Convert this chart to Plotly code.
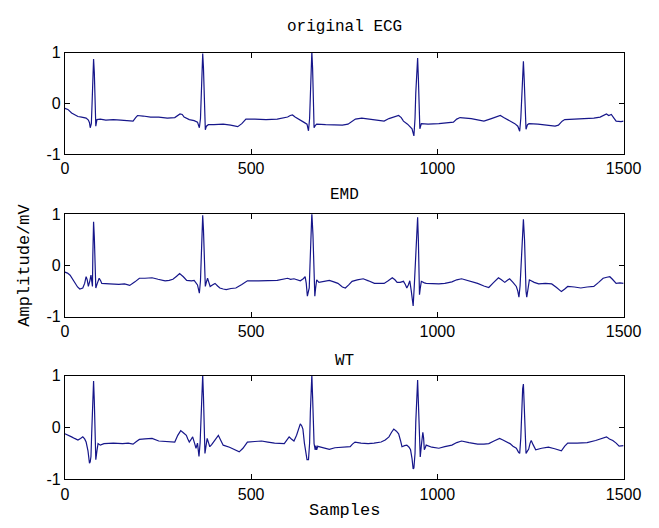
import plotly.graph_objects as go

# ---- data (sample index, amplitude in mV) ----
orig_x = [0, 8, 18, 25, 35, 45, 57, 63, 66, 68, 71, 73, 75, 77, 79, 81, 83, 86, 95, 110, 130, 150, 170, 183, 190, 195, 210, 230, 252, 275, 295, 303, 309, 315, 320, 334, 347, 356, 361, 364, 366, 368, 370, 372, 374, 377, 380, 385, 400, 425, 445, 464, 475, 486, 510, 540, 570, 598, 605, 611, 618, 624, 641, 650, 654, 657, 659, 661, 663, 665, 667, 669, 672, 676, 700, 730, 745, 760, 771, 780, 797, 815, 831, 857, 870, 883, 896, 903, 909, 920, 926, 932, 937, 940, 942, 945, 947, 949, 951, 953, 957, 975, 1004, 1025, 1043, 1052, 1061, 1091, 1110, 1125, 1145, 1160, 1169, 1178, 1186, 1200, 1208, 1216, 1221, 1224, 1226, 1229, 1231, 1233, 1235, 1238, 1242, 1246, 1270, 1295, 1316, 1325, 1335, 1342, 1370, 1400, 1420, 1437, 1446, 1454, 1460, 1467, 1474, 1480, 1493, 1500]
orig_y = [-0.10, -0.12, -0.19, -0.22, -0.26, -0.27, -0.29, -0.33, -0.38, -0.48, -0.40, 0.0, 0.62, 0.87, 0.6, -0.2, -0.45, -0.32, -0.31, -0.33, -0.32, -0.33, -0.35, -0.35, -0.28, -0.24, -0.25, -0.27, -0.27, -0.29, -0.28, -0.23, -0.21, -0.22, -0.27, -0.32, -0.34, -0.37, -0.48, -0.3, 0.1, 0.7, 0.98, 0.7, 0.0, -0.52, -0.45, -0.42, -0.42, -0.41, -0.43, -0.46, -0.4, -0.31, -0.31, -0.32, -0.31, -0.27, -0.24, -0.23, -0.27, -0.30, -0.37, -0.41, -0.54, -0.3, 0.2, 0.75, 1.02, 0.7, 0.0, -0.48, -0.44, -0.41, -0.42, -0.43, -0.43, -0.41, -0.35, -0.31, -0.29, -0.31, -0.33, -0.35, -0.3, -0.27, -0.24, -0.28, -0.35, -0.41, -0.46, -0.5, -0.64, -0.3, 0.2, 0.7, 0.89, 0.5, -0.2, -0.5, -0.40, -0.41, -0.40, -0.39, -0.37, -0.31, -0.28, -0.30, -0.33, -0.35, -0.3, -0.26, -0.24, -0.28, -0.31, -0.37, -0.40, -0.45, -0.55, -0.3, 0.1, 0.65, 0.83, 0.5, -0.1, -0.51, -0.42, -0.40, -0.41, -0.43, -0.45, -0.43, -0.35, -0.32, -0.31, -0.31, -0.29, -0.27, -0.23, -0.21, -0.24, -0.22, -0.29, -0.35, -0.36, -0.35]

emd_x = [0, 7, 14, 20, 27, 34, 40, 48, 53, 57, 60, 63, 67, 70, 72, 74, 75, 77, 79, 81, 83, 87, 92, 96, 99, 120, 145, 160, 174, 188, 200, 215, 234, 250, 269, 280, 290, 300, 308, 318, 327, 340, 347, 356, 361, 364, 366, 368, 370, 372, 374, 377, 380, 383, 386, 390, 396, 403, 410, 416, 425, 433, 446, 459, 475, 490, 520, 546, 570, 598, 606, 615, 624, 632, 640, 645, 648, 651, 654, 656, 658, 660, 663, 666, 668, 671, 673, 676, 682, 695, 710, 722, 733, 745, 753, 762, 771, 785, 801, 815, 831, 845, 857, 868, 879, 886, 892, 900, 909, 914, 918, 922, 926, 930, 935, 938, 941, 944, 947, 949, 951, 952, 954, 957, 965, 970, 1004, 1020, 1039, 1052, 1065, 1085, 1108, 1125, 1138, 1150, 1164, 1172, 1181, 1188, 1194, 1203, 1212, 1216, 1219, 1222, 1225, 1228, 1231, 1234, 1236, 1238, 1240, 1243, 1247, 1260, 1272, 1290, 1307, 1320, 1333, 1342, 1350, 1368, 1385, 1402, 1420, 1433, 1445, 1455, 1463, 1470, 1480, 1490, 1500]
emd_y = [-0.13, -0.15, -0.19, -0.26, -0.35, -0.42, -0.46, -0.44, -0.35, -0.22, -0.28, -0.41, -0.30, -0.19, -0.30, -0.41, 0.2, 0.85, 0.55, -0.1, -0.44, -0.35, -0.25, -0.30, -0.35, -0.36, -0.37, -0.36, -0.39, -0.32, -0.25, -0.25, -0.24, -0.27, -0.30, -0.29, -0.27, -0.21, -0.16, -0.22, -0.29, -0.30, -0.29, -0.38, -0.54, -0.3, 0.2, 0.75, 0.98, 0.7, 0.0, -0.41, -0.32, -0.25, -0.32, -0.41, -0.38, -0.35, -0.40, -0.44, -0.46, -0.47, -0.45, -0.44, -0.37, -0.30, -0.30, -0.30, -0.29, -0.25, -0.27, -0.26, -0.28, -0.30, -0.26, -0.22, -0.35, -0.60, -0.50, -0.44, 0.0, 0.6, 1.02, 0.6, -0.1, -0.60, -0.45, -0.28, -0.33, -0.31, -0.29, -0.32, -0.35, -0.42, -0.44, -0.38, -0.31, -0.28, -0.26, -0.30, -0.35, -0.35, -0.35, -0.30, -0.24, -0.28, -0.33, -0.33, -0.31, -0.37, -0.44, -0.38, -0.30, -0.5, -0.79, -0.4, 0.1, 0.7, 0.94, 0.5, -0.2, -0.57, -0.45, -0.31, -0.34, -0.35, -0.36, -0.35, -0.32, -0.28, -0.26, -0.30, -0.35, -0.40, -0.43, -0.34, -0.24, -0.28, -0.33, -0.29, -0.26, -0.33, -0.41, -0.5, -0.62, -0.4, 0.1, 0.7, 0.90, 0.5, -0.1, -0.5, -0.62, -0.45, -0.28, -0.33, -0.36, -0.35, -0.36, -0.43, -0.51, -0.46, -0.41, -0.42, -0.44, -0.42, -0.41, -0.33, -0.25, -0.23, -0.22, -0.27, -0.35, -0.34, -0.35]

wt_x = [0, 8, 18, 26, 35, 42, 48, 53, 57, 62, 66, 68, 70, 72, 74, 77, 79, 81, 83, 86, 89, 95, 105, 130, 155, 170, 183, 192, 200, 215, 234, 252, 275, 295, 303, 311, 318, 326, 330, 334, 338, 343, 348, 352, 356, 358, 360, 363, 366, 368, 370, 372, 374, 376, 379, 382, 386, 389, 394, 399, 406, 412, 418, 425, 442, 455, 468, 478, 490, 510, 528, 545, 563, 589, 596, 602, 608, 615, 622, 628, 632, 636, 639, 643, 647, 650, 654, 657, 659, 661, 663, 665, 667, 669, 672, 674, 676, 679, 682, 695, 710, 725, 745, 755, 766, 772, 779, 795, 814, 830, 849, 860, 870, 877, 883, 890, 896, 901, 905, 912, 918, 924, 928, 932, 935, 937, 940, 942, 945, 947, 949, 951, 954, 957, 959, 961, 963, 965, 968, 970, 985, 1004, 1020, 1039, 1052, 1065, 1085, 1108, 1125, 1138, 1152, 1167, 1176, 1186, 1195, 1203, 1212, 1218, 1221, 1224, 1226, 1229, 1231, 1233, 1235, 1238, 1242, 1245, 1249, 1252, 1257, 1264, 1280, 1298, 1315, 1333, 1342, 1350, 1375, 1402, 1425, 1445, 1454, 1462, 1471, 1480, 1488, 1500]
wt_y = [-0.12, -0.14, -0.18, -0.21, -0.24, -0.21, -0.18, -0.22, -0.28, -0.45, -0.69, -0.66, -0.56, -0.1, 0.5, 0.9, 0.5, -0.2, -0.62, -0.45, -0.31, -0.34, -0.31, -0.30, -0.31, -0.30, -0.32, -0.27, -0.23, -0.22, -0.21, -0.26, -0.27, -0.28, -0.15, -0.06, -0.10, -0.15, -0.22, -0.28, -0.24, -0.18, -0.30, -0.40, -0.30, -0.45, -0.56, -0.3, 0.3, 0.8, 1.02, 0.6, -0.1, -0.50, -0.35, -0.21, -0.30, -0.37, -0.33, -0.28, -0.20, -0.15, -0.24, -0.34, -0.38, -0.43, -0.47, -0.40, -0.28, -0.27, -0.26, -0.28, -0.30, -0.31, -0.24, -0.18, -0.22, -0.26, -0.15, -0.02, 0.07, 0.03, -0.03, -0.30, -0.55, -0.62, -0.62, -0.3, 0.3, 0.8, 1.02, 0.6, -0.1, -0.31, -0.43, -0.35, -0.43, -0.36, -0.37, -0.40, -0.42, -0.39, -0.38, -0.38, -0.37, -0.32, -0.28, -0.30, -0.31, -0.30, -0.28, -0.24, -0.18, -0.09, -0.03, -0.07, -0.12, -0.25, -0.37, -0.35, -0.34, -0.38, -0.43, -0.6, -0.80, -0.78, -0.5, 0.1, 0.7, 0.92, 0.5, -0.1, -0.57, -0.35, -0.15, -0.09, -0.2, -0.43, -0.38, -0.34, -0.38, -0.40, -0.37, -0.34, -0.29, -0.26, -0.29, -0.32, -0.32, -0.31, -0.26, -0.21, -0.24, -0.28, -0.31, -0.36, -0.40, -0.48, -0.50, -0.2, 0.3, 0.75, 0.84, 0.5, -0.1, -0.50, -0.45, -0.42, -0.3, -0.25, -0.33, -0.43, -0.40, -0.38, -0.41, -0.45, -0.36, -0.30, -0.30, -0.29, -0.25, -0.20, -0.18, -0.22, -0.25, -0.30, -0.36, -0.35]

titles = ["original ECG", "EMD", "WT"]
x_ticks = [0, 500, 1000, 1500]
y_ticks = [-1, 0, 1]
x_label = "Samples"
y_label = "Amplitude/mV"

W, H = 659, 528
LINE = "#16168a"
TICKFONT = dict(family="Liberation Sans", size=16, color="black")
MONO = "Liberation Mono"

# panel boxes in pixels (top, bottom)
boxes = [(46, 151), (213, 319), (380, 487)]
x_left, x_right = 63, 641

fig = go.Figure()
series = [(orig_x, orig_y), (emd_x, emd_y), (wt_x, wt_y)]
for i, (xs, ys) in enumerate(series):
    suffix = "" if i == 0 else str(i + 1)
    fig.add_trace(go.Scatter(x=xs, y=ys, mode="lines",
                             line=dict(color=LINE, width=1.2),
                             xaxis="x" + suffix, yaxis="y" + suffix,
                             showlegend=False, hoverinfo="skip"))

layout = dict(width=W, height=H, margin=dict(l=0, r=0, t=0, b=0),
              paper_bgcolor="white", plot_bgcolor="white", showlegend=False)

for i, (top, bot) in enumerate(boxes):
    suffix = "" if i == 0 else str(i + 1)
    layout["xaxis" + suffix] = dict(
        domain=[x_left / W, x_right / W], range=[0, 1500],
        tickvals=x_ticks, ticktext=[str(v) for v in x_ticks],
        ticks="inside", ticklen=5, tickcolor="black",
        showline=True, linecolor="black", linewidth=1, mirror="ticks",
        showgrid=False, zeroline=False, tickfont=TICKFONT,
        anchor="y" + suffix, fixedrange=True)
    layout["yaxis" + suffix] = dict(
        domain=[1 - bot / H, 1 - top / H], range=[-1, 1],
        tickvals=y_ticks, ticktext=[str(v) for v in y_ticks],
        ticks="inside", ticklen=5, tickcolor="black",
        showline=True, linecolor="black", linewidth=1, mirror="ticks",
        showgrid=False, zeroline=False, tickfont=TICKFONT,
        anchor="x" + suffix, fixedrange=True)

fig.update_layout(**layout)

# subplot titles
title_y = [20, 193, 365]
for t, ty in zip(titles, title_y):
    fig.add_annotation(text=t, x=(x_left + x_right) / 2 / W, y=1 - ty / H,
                       xref="paper", yref="paper", showarrow=False,
                       xanchor="center", yanchor="middle",
                       font=dict(family=MONO, size=16, color="black"))

fig.add_annotation(text=x_label, x=352 / W, y=1 - 519 / H, xref="paper", yref="paper",
                   showarrow=False, xanchor="center", yanchor="middle",
                   font=dict(family=MONO, size=17, color="black"))
fig.add_annotation(text=y_label, x=21 / W, y=1 - 266 / H, xref="paper", yref="paper",
                   showarrow=False, xanchor="center", yanchor="middle", textangle=-90,
                   font=dict(family=MONO, size=17, color="black"))

fig.write_html("out.html")
